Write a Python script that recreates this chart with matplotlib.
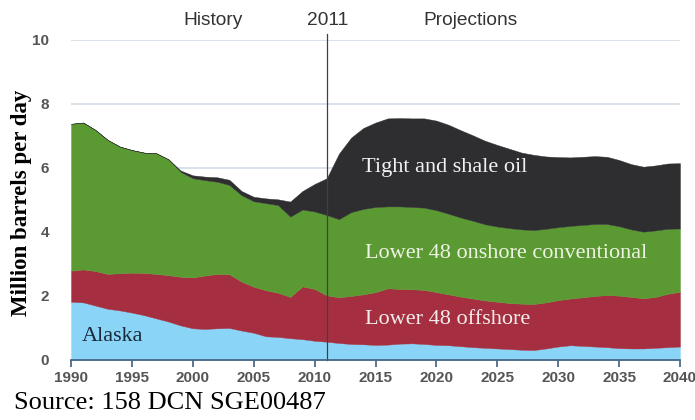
import numpy as np
import matplotlib
matplotlib.use("Agg")
import matplotlib.pyplot as plt

years = np.arange(1990, 2041)

# cumulative tops (million barrels per day)
alaska_top = [1.82, 1.80, 1.70, 1.60, 1.55, 1.48, 1.40, 1.30, 1.20, 1.08,
              0.99, 0.97, 0.99, 1.00, 0.92, 0.85, 0.74, 0.72, 0.68, 0.65,
              0.60, 0.57, 0.53, 0.50, 0.49, 0.47, 0.48, 0.51, 0.52, 0.50,
              0.47, 0.46, 0.43, 0.40, 0.38, 0.36, 0.34, 0.32, 0.31, 0.36,
              0.42, 0.46, 0.44, 0.42, 0.40, 0.37, 0.36, 0.36, 0.38, 0.40, 0.42]
offshore_top = [2.79, 2.83, 2.78, 2.69, 2.71, 2.73, 2.72, 2.69, 2.65, 2.60,
                2.58, 2.64, 2.69, 2.68, 2.45, 2.29, 2.18, 2.10, 1.97, 2.30,
                2.22, 2.02, 1.96, 2.00, 2.05, 2.12, 2.24, 2.22, 2.21, 2.19,
                2.12, 2.05, 1.98, 1.92, 1.86, 1.82, 1.78, 1.76, 1.75, 1.80,
                1.87, 1.92, 1.96, 2.00, 2.03, 2.01, 1.97, 1.93, 1.97, 2.07, 2.13]
onshore_top = [7.38, 7.42, 7.19, 6.88, 6.67, 6.56, 6.48, 6.46, 6.27, 5.88,
               5.68, 5.62, 5.57, 5.47, 5.15, 4.96, 4.90, 4.84, 4.48, 4.70,
               4.64, 4.53, 4.40, 4.62, 4.72, 4.78, 4.80, 4.80, 4.78, 4.76,
               4.68, 4.57, 4.45, 4.35, 4.24, 4.17, 4.12, 4.08, 4.06, 4.10,
               4.15, 4.19, 4.22, 4.25, 4.25, 4.18, 4.08, 4.01, 4.05, 4.10, 4.11]
shale_top = [7.38, 7.42, 7.19, 6.88, 6.67, 6.56, 6.48, 6.46, 6.27, 5.92,
             5.77, 5.73, 5.71, 5.63, 5.28, 5.10, 5.05, 5.02, 4.95, 5.28,
             5.50, 5.68, 6.45, 6.95, 7.25, 7.42, 7.55, 7.56, 7.55, 7.55,
             7.48, 7.35, 7.18, 7.02, 6.85, 6.72, 6.60, 6.48, 6.41, 6.36,
             6.34, 6.33, 6.35, 6.37, 6.35, 6.25, 6.12, 6.04, 6.08, 6.14, 6.15]

alaska = np.array(alaska_top)
offshore = np.array(offshore_top) - alaska
onshore = np.array(onshore_top) - np.array(offshore_top)
shale = np.array(shale_top) - np.array(onshore_top)

colors = ["#8AD5F7", "#A52F40", "#5B9A33", "#2E2E30"]

fig = plt.figure(figsize=(6.95, 4.2), dpi=100)
ax = fig.add_axes([0.1022, 0.1429, 0.8762, 0.7619])

for y in [2, 4, 6, 8, 10]:
    ax.axhline(y, color="#D3DCE6", lw=1.2, zorder=0)

ax.stackplot(years, alaska, offshore, onshore, shale, colors=colors,
             linewidth=0.3, edgecolor="face", zorder=2)

ax.plot([2011, 2011], [0, 10.2], color="#404040", lw=0.9, zorder=3, clip_on=False)

ax.set_xlim(1990, 2040)
ax.set_ylim(0, 10)
ax.set_xticks(range(1990, 2041, 5))
ax.set_yticks(range(0, 11, 2))
for s in ["top", "right", "left"]:
    ax.spines[s].set_visible(False)
ax.spines["bottom"].set_color("#3F5F7F")
ax.spines["bottom"].set_linewidth(1.2)
ax.spines["bottom"].set_zorder(4)
ax.tick_params(axis="x", length=5, width=1.2, color="#3F5F7F", direction="out",
               labelsize=11, labelcolor="#555555", pad=3)
ax.tick_params(axis="y", length=0, labelsize=11, labelcolor="#555555", pad=16)
for lbl in ax.get_xticklabels() + ax.get_yticklabels():
    lbl.set_fontfamily("Liberation Sans")
    lbl.set_fontweight("bold")

ax.set_ylabel("Million barrels per day", family="Liberation Serif",
              fontweight="bold", fontsize=16.5)
ax.yaxis.set_label_coords(-0.064, 0.49)

top = dict(ha="center", va="center", fontsize=13.8, family="Liberation Sans",
           color="#333333")
ax.text(2001.7, 10.62, "History", **top)
ax.text(2011.1, 10.62, "2011", **top)
ax.text(2022.8, 10.62, "Projections", **top)

serif = dict(family="Liberation Serif", fontsize=16, va="center", ha="left")
ax.text(2013.9, 6.0, "Tight and shale oil", color="#F2F2F2", **serif)
ax.text(2014.1, 3.34, "Lower 48 onshore conventional", color="#EEF3E4", **serif)
ax.text(2014.1, 1.25, "Lower 48 offshore", color="#F2ECEC", **serif)
ax.text(1990.9, 0.72, "Alaska", color="#1A2A3A", **serif)

fig.text(0.02, 0.04, "Source: 158 DCN SGE00487", family="Liberation Serif",
         fontsize=19, color="black", va="center", ha="left")

fig.savefig("out.png", dpi=100)
